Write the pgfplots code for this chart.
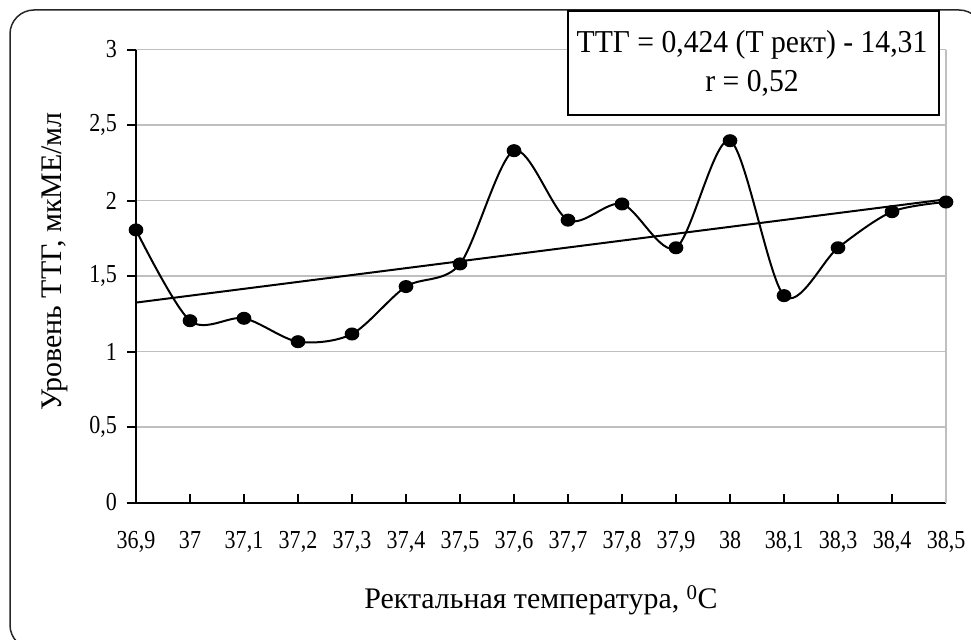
\documentclass[border=0pt]{standalone}
\usepackage{fontspec}
\setmainfont{Liberation Serif}
\newfontfamily\tickfont[FakeStretch=0.85]{Liberation Serif}
\newfontfamily\boxfont[FakeStretch=0.93]{Liberation Serif}
\usepackage{pgfplots}
\pgfplotsset{compat=1.18}
\begin{document}
\begin{tikzpicture}[x=1bp,y=1bp]
\useasboundingbox (0,0) rectangle (971,-640);
\begin{scope}
\clip (0,0) rectangle (971,-640);
\draw[line width=1.5bp, rounded corners=24bp, black!85] (10,-10) rectangle (983,-649);
\end{scope}
\begin{axis}[
  at={(136bp,-502.5bp)}, anchor=south west,
  scale only axis, width=810bp, height=453bp,
  xmin=0, xmax=15, ymin=0, ymax=3,
  axis lines*=left,
  axis line style={-, black, line width=2bp},
  xtick={0,...,15},
  xticklabels={{36,9},37,{37,1},{37,2},{37,3},{37,4},{37,5},{37,6},{37,7},{37,8},{37,9},38,{38,1},{38,3},{38,4},{38,5}},
  ytick={0,0.5,1,1.5,2,2.5,3},
  yticklabels={0,{0,5},1,{1,5},2,{2,5},3},
  xtick align=inside, ytick align=outside,
  major tick length=9bp,
  tick style={black, line width=2bp},
  ymajorgrids,
  major grid style={gray!50, line width=1.5bp},
  ticklabel style={font=\tickfont\fontsize{26}{28}\selectfont},
  xticklabel style={anchor=base, yshift=-45.5bp},
  yticklabel style={anchor=east, inner sep=0pt, xshift=-10bp},
  xlabel={Ректальная температура, \textsuperscript{0}C},
  ylabel={Уровень ТТГ, мкМЕ/мл},
  label style={font=\fontsize{30}{32}\selectfont},
  xlabel style={at={(axis description cs:0.5,-0.234)}, anchor=base},
  ylabel style={at={(axis description cs:-0.0915,0.532)}, anchor=base},
  clip=false,
]
\draw[gray!50, line width=1.5bp] (axis cs:15,0) -- (axis cs:15,3);
\addplot[black, line width=2bp] coordinates {(0,1.324) (15,2.008)};
\addplot[black, line width=2bp, smooth, tension=0.5, mark=*, mark size=5.5bp, mark options={xscale=1.15, fill=black}] coordinates {
(0,1.805) (1,1.204) (2,1.22) (3,1.065) (4,1.116) (5,1.43) (6,1.58) (7,2.33)
(8,1.87) (9,1.977) (10,1.687) (11,2.396) (12,1.37) (13,1.687) (14,1.926) (15,1.99)};
\end{axis}
\fill[white] (568,-11) rectangle (939,-115);
\draw[black, line width=2bp] (568,-11) rectangle (939,-115);
\node[anchor=base, inner sep=0pt, font=\boxfont\fontsize{32}{36}\selectfont] at (752,-53) {ТТГ = 0,424 (Т рект) - 14,31};
\node[anchor=base, inner sep=0pt, font=\boxfont\fontsize{32}{36}\selectfont] at (752,-92) {r = 0,52};
\end{tikzpicture}
\end{document}
